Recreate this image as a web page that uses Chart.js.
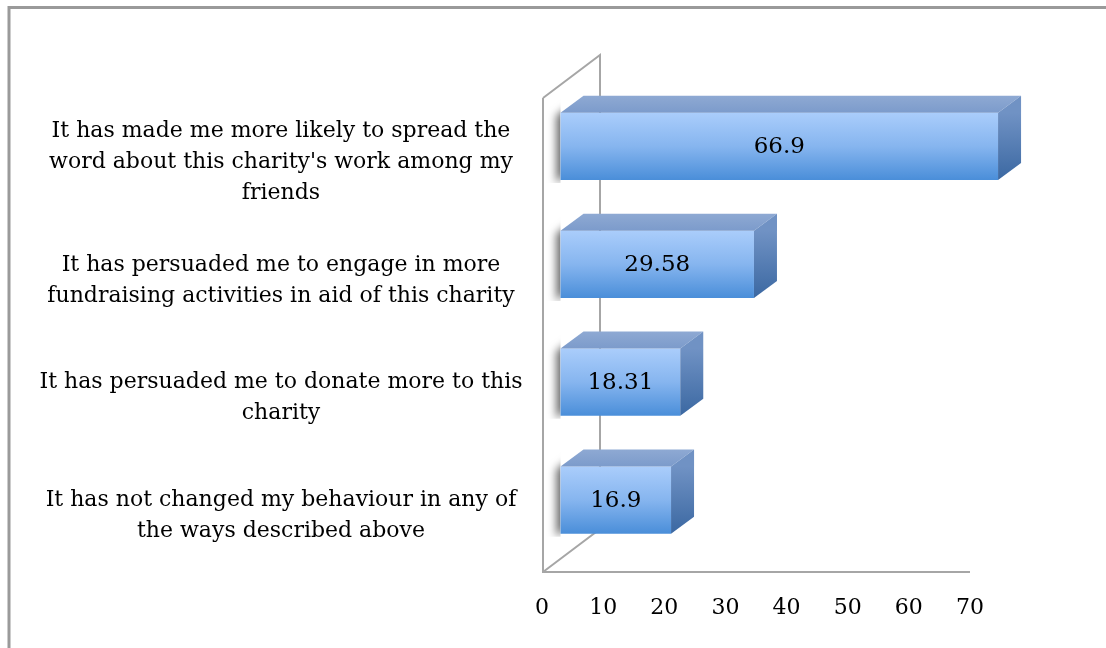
<!DOCTYPE html>
<html>
<head>
<meta charset="utf-8">
<script src="https://cdn.jsdelivr.net/npm/chart.js@4.4.1/dist/chart.umd.min.js"></script>
<style>
  html, body { margin: 0; padding: 0; background: #ffffff; }
  canvas { display: block; }
</style>
</head>
<body>
<canvas id="chart" width="1106" height="648"></canvas>
<script>
// Survey answers (multi-line category labels) and their percentages
const categories = [
  ["It has made me more likely to spread the", "word about this charity's work among my", "friends"],
  ["It has persuaded me to engage in more", "fundraising activities in aid of this charity"],
  ["It has persuaded me to donate more to this", "charity"],
  ["It has not changed my behaviour in any of", "the ways described above"]
];
const percentages = [66.9, 29.58, 18.31, 16.9];
const axisTicks = [0, 10, 20, 30, 40, 50, 60, 70];

const FONT_FAMILY = '"DejaVu Serif", "Liberation Serif", serif';
const LABEL_SIZE = 22;
const LABEL_CENTER_X = 281;

// 3D look: offsets of the back plane for the wall and for the bar blocks
const WALL_DX = 57, WALL_DY = -43;
const BAR_DX = 23, BAR_DY = -17;

// Padding so that the centred category labels sit at LABEL_CENTER_X
const measure = document.createElement('canvas').getContext('2d');
measure.font = LABEL_SIZE + 'px ' + FONT_FAMILY;
let widest = 0;
categories.forEach(lines => lines.forEach(l => { widest = Math.max(widest, measure.measureText(l).width); }));
const Y_AXIS_WIDTH = 542;
const yTickPadding = Math.max(0, Y_AXIS_WIDTH - LABEL_CENTER_X - widest / 2);

function frontGradient(context) {
  const chart = context.chart;
  const area = chart.chartArea;
  if (!area || !chart.scales.y) return '#7fb0ee';
  const yc = chart.scales.y.getPixelForValue(context.dataIndex);
  const band = (area.bottom - area.top) / categories.length;
  const h = band * 0.57;
  const g = chart.ctx.createLinearGradient(0, yc - h / 2, 0, yc + h / 2);
  g.addColorStop(0, '#aacdfb');
  g.addColorStop(0.5, '#86b5ef');
  g.addColorStop(1, '#4a8ed9');
  return g;
}

// Frame around the whole figure
const framePlugin = {
  id: 'frame',
  beforeDraw(chart) {
    const ctx = chart.ctx;
    ctx.save();
    ctx.strokeStyle = '#9a9a9a';
    ctx.lineWidth = 3;
    ctx.beginPath();
    ctx.moveTo(9, chart.height + 2);
    ctx.lineTo(9, 7.5);
    ctx.lineTo(chart.width + 2, 7.5);
    ctx.stroke();
    ctx.restore();
  }
};

// Side wall and floor of the 3D box, plus soft shadows cast on the wall
const wallPlugin = {
  id: 'wall',
  beforeDatasetsDraw(chart) {
    const ctx = chart.ctx;
    const area = chart.chartArea;
    const xs = chart.scales.x;
    const x0 = xs.getPixelForValue(axisTicks[0]) + 1;
    const xEnd = xs.getPixelForValue(axisTicks[axisTicks.length - 1]);
    const yTop = area.top + 10.5;
    const yBot = area.bottom + 13;
    ctx.save();
    ctx.strokeStyle = '#a6a6a6';
    ctx.lineWidth = 2;
    ctx.beginPath();
    ctx.moveTo(x0, yTop);
    ctx.lineTo(x0, yBot);
    ctx.lineTo(xEnd, yBot);
    ctx.moveTo(x0, yTop);
    ctx.lineTo(x0 + WALL_DX, yTop + WALL_DY);
    ctx.lineTo(x0 + WALL_DX, yBot + WALL_DY);
    ctx.lineTo(x0, yBot);
    ctx.stroke();

    // shadows of the blocks on the wall
    const meta = chart.getDatasetMeta(0);
    meta.data.forEach(bar => {
      const p = bar.getProps(['x', 'y', 'base', 'height'], true);
      const top = p.y - p.height / 2, bottom = p.y + p.height / 2;
      ctx.save();
      ctx.beginPath();
      ctx.rect(x0 + 2, top + BAR_DY - 10, p.base - x0 - 2, p.height + 30);
      ctx.clip();
      ctx.shadowColor = 'rgba(0,0,0,0.6)';
      ctx.shadowBlur = 8;
      ctx.shadowOffsetX = -4;
      ctx.shadowOffsetY = 3;
      ctx.fillStyle = '#ffffff';
      ctx.beginPath();
      ctx.moveTo(p.base, top);
      ctx.lineTo(p.base + BAR_DX, top + BAR_DY);
      ctx.lineTo(p.base + BAR_DX, bottom + BAR_DY);
      ctx.lineTo(p.base, bottom);
      ctx.closePath();
      ctx.fill();
      ctx.restore();
    });
    ctx.restore();
  }
};

// Top and side faces of each block, then the value written on its front
const blockPlugin = {
  id: 'blocks',
  afterDatasetsDraw(chart) {
    const ctx = chart.ctx;
    const meta = chart.getDatasetMeta(0);
    const values = chart.data.datasets[0].data;
    ctx.save();
    meta.data.forEach((bar, i) => {
      const p = bar.getProps(['x', 'y', 'base', 'height'], true);
      const top = p.y - p.height / 2, bottom = p.y + p.height / 2;
      // top face
      const tg = ctx.createLinearGradient(0, top + BAR_DY, 0, top);
      tg.addColorStop(0, '#8ea9d3');
      tg.addColorStop(1, '#7c9bcb');
      ctx.fillStyle = tg;
      ctx.beginPath();
      ctx.moveTo(p.base, top);
      ctx.lineTo(p.x, top);
      ctx.lineTo(p.x + BAR_DX, top + BAR_DY);
      ctx.lineTo(p.base + BAR_DX, top + BAR_DY);
      ctx.closePath();
      ctx.fill();
      // side face
      const sg = ctx.createLinearGradient(0, top, 0, bottom);
      sg.addColorStop(0, '#7092c4');
      sg.addColorStop(1, '#3b68a2');
      ctx.fillStyle = sg;
      ctx.beginPath();
      ctx.moveTo(p.x, top);
      ctx.lineTo(p.x + BAR_DX, top + BAR_DY);
      ctx.lineTo(p.x + BAR_DX, bottom + BAR_DY);
      ctx.lineTo(p.x, bottom);
      ctx.closePath();
      ctx.fill();
      // value label
      ctx.fillStyle = '#000000';
      ctx.font = '23px ' + FONT_FAMILY;
      ctx.textAlign = 'center';
      ctx.textBaseline = 'middle';
      ctx.fillText(String(values[i]), (p.x + p.base) / 2, p.y + 1);
    });
    ctx.restore();
  }
};

new Chart(document.getElementById('chart'), {
  type: 'bar',
  data: {
    labels: categories,
    datasets: [{
      data: percentages,
      xAxisID: 'depth',
      yAxisID: 'y',
      backgroundColor: frontGradient,
      borderWidth: 0,
      barPercentage: 0.57,
      categoryPercentage: 1,
      clip: false
    }]
  },
  options: {
    indexAxis: 'y',
    responsive: false,
    animation: false,
    layout: { padding: { top: 87.5, right: 136, bottom: 0, left: 0 } },
    plugins: {
      legend: { display: false },
      tooltip: { enabled: false }
    },
    scales: {
      // value axis with the printed ticks (front edge of the floor)
      x: {
        type: 'linear',
        position: 'bottom',
        min: axisTicks[0],
        max: axisTicks[axisTicks.length - 1],
        afterBuildTicks(scale) { scale.ticks = axisTicks.map(v => ({ value: v })); },
        grid: { display: false, drawTicks: false },
        border: { display: false },
        ticks: {
          color: '#000000',
          font: { family: FONT_FAMILY, size: 22 },
          padding: 36,
          maxRotation: 0
        },
        afterFit(scale) { scale.height = 89; }
      },
      // value axis the blocks stand on (set back in depth)
      depth: {
        type: 'linear',
        display: false,
        min: -2.83,
        max: 62.61
      },
      y: {
        type: 'category',
        position: 'left',
        grid: { display: false, drawTicks: false },
        border: { display: false },
        ticks: {
          color: '#000000',
          font: { family: FONT_FAMILY, size: LABEL_SIZE, lineHeight: 31 / LABEL_SIZE },
          crossAlign: 'center',
          padding: yTickPadding,
          labelOffset: 16,
          autoSkip: false
        },
        afterFit(scale) { scale.width = Y_AXIS_WIDTH; }
      }
    }
  },
  plugins: [framePlugin, wallPlugin, blockPlugin]
});
</script>
</body>
</html>
